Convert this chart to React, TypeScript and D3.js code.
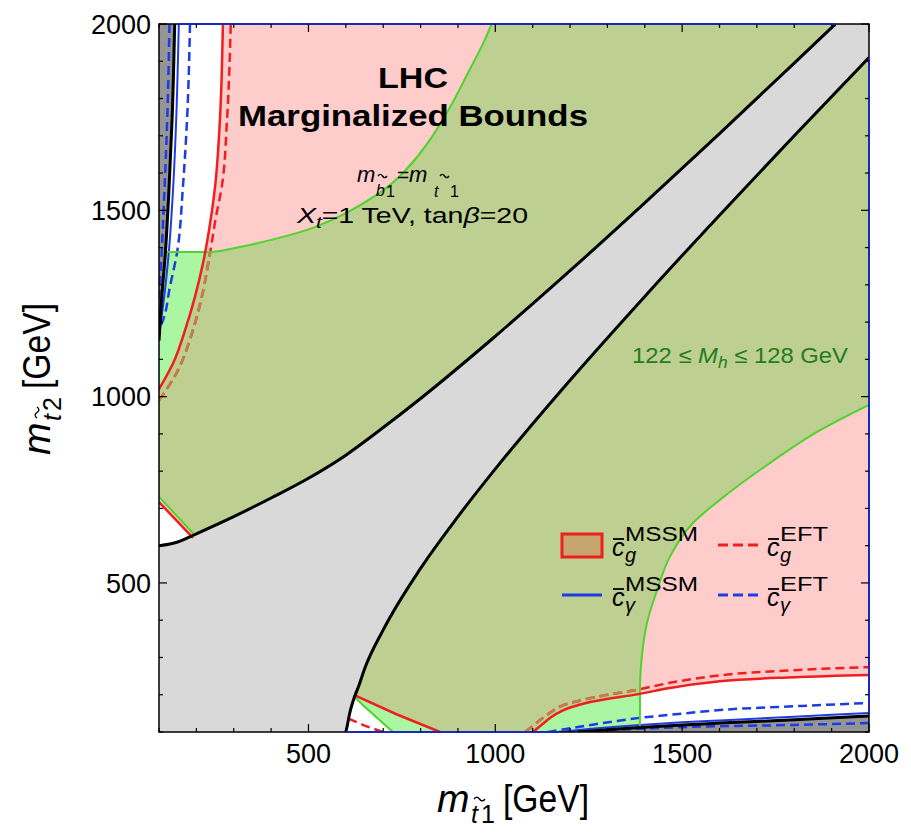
import React from "react";
import * as d3 from "d3";

type P = [number, number];

// ticks in GeV
const majorTicks = [500, 1000, 1500, 2000];
const minorTicks = [100, 200, 300, 400, 600, 700, 800, 900, 1100, 1200, 1300, 1400, 1600, 1700, 1800, 1900];

// light gray band edges (m_t1, m_t2)
const grayUpper: P[] = [[100, 600], [150, 610], [200, 632], [300, 678], [400, 728], [500, 781], [600, 843], [700, 917], [800, 995], [1000, 1162], [1200, 1338], [1400, 1520], [1600, 1706], [1800, 1895], [1910, 2000]];
const grayLower: P[] = [[600, 100], [603, 113], [610, 149], [620, 185], [635, 225], [650, 269], [700, 374], [800, 539], [900, 678], [1000, 806], [1200, 1044], [1400, 1269], [1600, 1487], [1800, 1700], [2000, 1910]];

// dark gray strips
const darkTL: P[] = [[142, 2000], [135, 1743], [127, 1563], [117, 1385], [106, 1250], [100, 1150]];
const darkBR: P[] = [[2000, 143], [1800, 133], [1600, 124], [1500, 119], [1387, 112], [1300, 106], [1220, 100]];

// c_gamma
const blueSolidTL: P[] = [[153, 2000], [146, 1743], [138, 1563], [126, 1385], [113, 1260], [100, 1165]];
const blueSolidBR: P[] = [[2000, 151], [1800, 141], [1600, 131], [1500, 126], [1387, 119], [1250, 108], [1170, 100]];
const blueDashTL: P[] = [[183, 2000], [175, 1743], [164, 1563], [148, 1385], [129, 1294], [111, 1206], [100, 1180]];
const blueDashBR: P[] = [[1140, 100], [1250, 118], [1387, 138], [1467, 146], [1601, 159], [1800, 169], [2000, 178]];
const blueDashDarkTL: P[] = [[128, 2000], [122, 1743], [115, 1563], [107, 1385], [100, 1250]];
const blueDashDarkBR: P[] = [[2000, 124], [1800, 119], [1500, 113], [1325, 106], [1170, 100]];

// c_g
const redTL: P[] = [[100, 1020], [138, 1090], [170, 1179], [196, 1267], [218, 1359], [234, 1447], [250, 1563], [263, 1743], [271, 2000]];
const redBR: P[] = [[1101, 100], [1125, 120], [1150, 140], [1181, 158], [1225, 173], [1272, 184], [1379, 201], [1467, 218], [1601, 236], [1800, 247], [2000, 253]];
const redCorner1: P[] = [[100, 717], [191, 621]];
const redCorner2: P[] = [[624, 198], [737, 147], [852, 100]];
const redDashTL: P[] = [[100, 990], [145, 1060], [191, 1179], [215, 1270], [238, 1394], [252, 1480], [268, 1563], [282, 1743], [292, 2000]];
const redDashBR: P[] = [[1080, 100], [1105, 120], [1130, 140], [1173, 168], [1225, 184], [1280, 196], [1382, 214], [1467, 232], [1601, 252], [1800, 266], [2000, 274]];
const redDashCorner: P[] = [[607, 136], [650, 117], [700, 100]];

// 122 <= Mh <= 128
const greenTL: P[] = [[112, 1388], [231, 1388], [300, 1398], [397, 1420], [517, 1455], [630, 1509], [753, 1600], [825, 1689], [879, 1777], [927, 1869], [972, 1958], [990, 2000]];
const greenBR: P[] = [[1387, 112], [1387, 213], [1392, 301], [1406, 393], [1433, 481], [1467, 570], [1529, 661], [1601, 723], [1735, 822], [1869, 910], [2000, 978]];
const greenCorner1: P[] = [[100, 731], [196, 628]];
const greenCorner2: P[] = [[623, 194], [646, 172], [726, 100]];

const PINK = "#ffcccc";
const OLIVE = "#bdcf91";
const LGREEN = "#aaf6a2";
const LGRAY = "#d9d9d9";
const DGRAY = "#959595";
const RED = "#f01e1e";
const BLUE = "#1e3ce6";
const GLINE = "#4fd42c";
const BROWN = "#c0804c";
const TAN = "#c6a56e";
const EDGE = "#1a2ab8";

const x = d3.scaleLinear().domain([100, 2000]).range([159, 869]);
const y = d3.scaleLinear().domain([100, 2000]).range([732, 24]);

type Kind = "x" | "y" | "l";
const lines: Record<Kind, d3.Line<P>> = {
  x: d3.line<P>().x(d => x(d[0])).y(d => y(d[1])).curve(d3.curveMonotoneX),
  y: d3.line<P>().x(d => x(d[0])).y(d => y(d[1])).curve(d3.curveMonotoneY),
  l: d3.line<P>().x(d => x(d[0])).y(d => y(d[1])),
};
const path = (pts: P[], k: Kind) => lines[k](pts) || "";
const rev = (a: P[]) => [...a].reverse();

function area(parts: [P[], Kind][]) {
  return (
    parts
      .map(([pts, k], i) => {
        const p = path(pts, k);
        return i === 0 ? p : "L" + p.slice(1);
      })
      .join("") + "Z"
  );
}

function Tilde({ x0, y0, w }: { x0: number; y0: number; w: number }) {
  const h = w * 0.35;
  return (
    <path
      d={`M${x0},${y0} q${w / 4},${-h} ${w / 2},0 t${w / 2},0`}
      fill="none"
      stroke="black"
      strokeWidth={1.3}
    />
  );
}

function CBar({ x0, y0, sub, sup, supLen }: { x0: number; y0: number; sub: string; sup: string; supLen: number }) {
  return (
    <g>
      <text x={x0} y={y0 + 11} fontSize={25} fontStyle="italic">c</text>
      <line x1={x0 + 1} x2={x0 + 12} y1={y0 - 6} y2={y0 - 6} stroke="black" strokeWidth={1.8} />
      <text x={x0 + 13} y={y0 - 4} fontSize={21} textLength={supLen} lengthAdjust="spacingAndGlyphs">{sup}</text>
      <text x={x0 + 13} y={y0 + 17} fontSize={20} fontStyle="italic">{sub}</text>
    </g>
  );
}

function AxisLabel({ idx, transform }: { idx: string; transform: string }) {
  return (
    <g transform={transform}>
      <text x={0} y={0} fontSize={39} fontStyle="italic">m</text>
      <text x={34} y={11} fontSize={25} fontStyle="italic">t</text>
      <Tilde x0={37} y0={-13} w={11} />
      <text x={44} y={11} fontSize={25}>{idx}</text>
      <text x={66} y={0} fontSize={39} textLength={86} lengthAdjust="spacingAndGlyphs">[GeV]</text>
    </g>
  );
}

export default function App() {
  const higgsArea = area([
    [greenTL, "x"],
    [[[990, 2000], [2000, 2000], [2000, 978]], "l"],
    [rev(greenBR), "y"],
    [[[1387, 112], [1387, 100], [726, 100]], "l"],
    [rev(greenCorner2), "l"],
    [[[623, 194], [400, 400], [196, 628]], "l"],
    [rev(greenCorner1), "l"],
    [[[100, 731], [100, 1388]], "l"],
  ]);
  const cgArea = area([
    [redTL, "y"],
    [[[271, 2000], [2000, 2000], [2000, 253]], "l"],
    [rev(redBR), "x"],
    [[[1101, 100], [852, 100]], "l"],
    [rev(redCorner2), "l"],
    [[[624, 198], [400, 400], [191, 621]], "l"],
    [rev(redCorner1), "l"],
    [[[100, 717], [100, 1020]], "l"],
  ]);
  const grayArea = area([
    [grayUpper, "x"],
    [[[1910, 2000], [2000, 2000], [2000, 1910]], "l"],
    [rev(grayLower), "x"],
    [[[600, 100], [100, 100], [100, 600]], "l"],
  ]);
  const darkTLArea = area([
    [[[100, 2000], [142, 2000]], "l"],
    [darkTL, "y"],
  ]);
  const darkBRArea = area([
    [[[2000, 100], [2000, 143]], "l"],
    [darkBR, "x"],
  ]);

  const dash = "9,5";
  const allTicks = [...majorTicks, ...minorTicks];

  return (
    <svg
      width={911}
      height={837}
      style={{ position: "absolute", left: 0, top: 0 }}
      fontFamily="'Liberation Sans', Arial, Helvetica, sans-serif"
    >
      <defs>
        <clipPath id="plot">
          <rect x={159} y={24} width={710} height={708} />
        </clipPath>
        <clipPath id="cg">
          <path d={cgArea} />
        </clipPath>
        <clipPath id="higgs">
          <path d={higgsArea} />
        </clipPath>
      </defs>
      <rect width={911} height={837} fill="white" />

      <g clipPath="url(#plot)">
        <path d={higgsArea} fill={LGREEN} />
        <path d={cgArea} fill={PINK} />
        <g clipPath="url(#cg)">
          <path d={higgsArea} fill={OLIVE} />
        </g>

        <path d={path(redDashTL, "y")} fill="none" stroke={RED} strokeWidth={2.5} strokeDasharray={dash} />
        <path d={path(redDashBR, "x")} fill="none" stroke={RED} strokeWidth={2.5} strokeDasharray={dash} />
        <path d={path(redDashCorner, "l")} fill="none" stroke={RED} strokeWidth={2.5} strokeDasharray={dash} />
        <g clipPath="url(#higgs)">
          <path d={path(redDashTL, "y")} fill="none" stroke={BROWN} strokeWidth={2.6} strokeDasharray={dash} />
          <path d={path(redDashBR, "x")} fill="none" stroke={BROWN} strokeWidth={2.6} strokeDasharray={dash} />
        </g>

        <path d={grayArea} fill={LGRAY} />
        <path d={darkTLArea} fill={DGRAY} />
        <path d={darkBRArea} fill={DGRAY} />

        {[[blueDashTL, "y"], [blueDashBR, "x"], [blueDashDarkTL, "y"], [blueDashDarkBR, "x"]].map(([c, k], i) => (
          <path key={"bl" + i} d={path(c as P[], k as Kind)} fill="none" stroke={BLUE} strokeWidth={2.5} strokeDasharray={dash} />
        ))}
        <path d={path(blueSolidTL, "y")} fill="none" stroke={BLUE} strokeWidth={2} />
        <path d={path(blueSolidBR, "x")} fill="none" stroke={BLUE} strokeWidth={2} />

        <path d={path(greenTL, "x")} fill="none" stroke={GLINE} strokeWidth={2} />
        <path d={path(greenBR, "y")} fill="none" stroke={GLINE} strokeWidth={2} />
        <path d={path(greenCorner1, "l")} fill="none" stroke={GLINE} strokeWidth={2} />
        <path d={path(greenCorner2, "l")} fill="none" stroke={GLINE} strokeWidth={2} />

        <path d={path(redTL, "y")} fill="none" stroke={RED} strokeWidth={2.5} />
        <path d={path(redBR, "x")} fill="none" stroke={RED} strokeWidth={2.5} />
        <path d={path(redCorner1, "l")} fill="none" stroke={RED} strokeWidth={2.5} />
        <path d={path(redCorner2, "l")} fill="none" stroke={RED} strokeWidth={2.5} />

        <path d={path(grayUpper, "x")} fill="none" stroke="black" strokeWidth={3} />
        <path d={path(grayLower, "x")} fill="none" stroke="black" strokeWidth={3} />
        <path d={path(darkTL, "y")} fill="none" stroke="black" strokeWidth={3} />
        <path d={path(darkBR, "x")} fill="none" stroke="black" strokeWidth={3} />
      </g>

      {/* frame */}
      <rect x={159} y={24} width={710} height={708} fill="none" stroke="black" strokeWidth={1.5} />
      <line x1={x(153)} x2={x(1910)} y1={24} y2={24} stroke={EDGE} strokeWidth={2} />
      <line x1={869} x2={869} y1={y(1910)} y2={y(151)} stroke={EDGE} strokeWidth={2} />
      <line x1={x(600)} x2={x(1170)} y1={732} y2={732} stroke={EDGE} strokeWidth={2} />

      {allTicks.map(v => {
        const len = majorTicks.includes(v) ? 8 : 4;
        return (
          <g key={"t" + v} stroke="black" strokeWidth={1.2}>
            <line x1={x(v)} x2={x(v)} y1={732} y2={732 - len} />
            <line x1={x(v)} x2={x(v)} y1={24} y2={24 + len} />
            <line x1={159} x2={159 + len} y1={y(v)} y2={y(v)} />
            <line x1={869} x2={869 - len} y1={y(v)} y2={y(v)} />
          </g>
        );
      })}
      {majorTicks.map(v => (
        <text key={"xl" + v} x={x(v)} y={763} fontSize={27} textAnchor="middle">{v}</text>
      ))}
      {majorTicks.map(v => (
        <text key={"yl" + v} x={151} y={y(v)} dy="0.36em" fontSize={27} textAnchor="end">{v}</text>
      ))}

      <AxisLabel idx="1" transform="translate(437,812)" />
      <AxisLabel idx="2" transform="translate(50,455) rotate(-90)" />

      {/* title */}
      <text x={413} y={88} fontSize={29} fontWeight="bold" textAnchor="middle" textLength={70} lengthAdjust="spacingAndGlyphs">LHC</text>
      <text x={413} y={126} fontSize={29} fontWeight="bold" textAnchor="middle" textLength={350} lengthAdjust="spacingAndGlyphs">Marginalized Bounds</text>

      {/* m_b1 = m_t1 */}
      <text x={357} y={182} fontSize={22} fontStyle="italic">m</text>
      <text x={376} y={196} fontSize={16} fontStyle="italic">b</text>
      <Tilde x0={378} y0={176} w={9} />
      <text x={386} y={197} fontSize={16}>1</text>
      <text x={397} y={182} fontSize={21}>=</text>
      <text x={409} y={182} fontSize={22} fontStyle="italic">m</text>
      <text x={434} y={197} fontSize={16} fontStyle="italic">t</text>
      <Tilde x0={440} y0={176} w={9} />
      <text x={450} y={197} fontSize={16}>1</text>

      <text x={297} y={223} fontSize={22} textLength={231} lengthAdjust="spacingAndGlyphs">
        <tspan fontStyle="italic">X</tspan>
        <tspan fontStyle="italic" fontSize={16} dy={5}>t</tspan>
        <tspan dy={-5}>{"=1 TeV, tan"}</tspan>
        <tspan fontStyle="italic">β</tspan>
        <tspan>=20</tspan>
      </text>

      <text x={632} y={363} fontSize={22} fill="#237d1c" textLength={216} lengthAdjust="spacingAndGlyphs">
        <tspan>{"122 ≤ "}</tspan>
        <tspan fontStyle="italic">M</tspan>
        <tspan fontStyle="italic" fontSize={16} dy={5}>h</tspan>
        <tspan dy={-5}>{" ≤ 128 GeV"}</tspan>
      </text>

      {/* legend */}
      <rect x={562} y={534} width={40} height={23} fill={TAN} stroke={RED} strokeWidth={3} />
      <CBar x0={612} y0={545} sub="g" sup="MSSM" supLen={73} />
      <line x1={562} x2={602} y1={595} y2={595} stroke={BLUE} strokeWidth={3} />
      <CBar x0={612} y0={595} sub="γ" sup="MSSM" supLen={73} />
      <line x1={718} x2={758} y1={545} y2={545} stroke={RED} strokeWidth={3} strokeDasharray="10,5" />
      <CBar x0={767} y0={545} sub="g" sup="EFT" supLen={48} />
      <line x1={718} x2={758} y1={595} y2={595} stroke={BLUE} strokeWidth={3} strokeDasharray="10,5" />
      <CBar x0={767} y0={595} sub="γ" sup="EFT" supLen={48} />
    </svg>
  );
}
